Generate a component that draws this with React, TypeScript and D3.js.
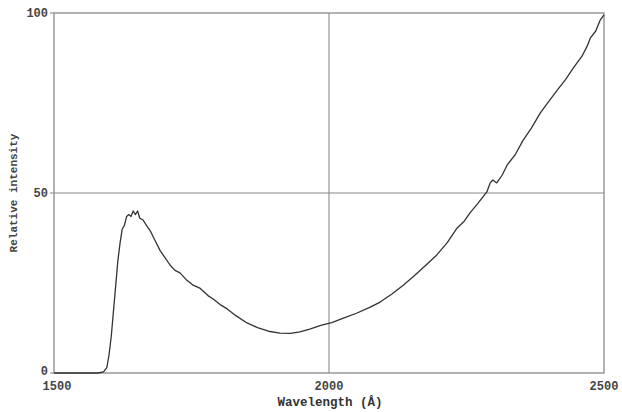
import React from "react";
import * as d3 from "d3";

const wavelengths = [
  1500, 1550, 1580, 1590, 1596, 1600, 1604, 1608, 1612, 1616, 1620, 1624, 1628, 1632, 1636, 1640,
  1644, 1648, 1652, 1656, 1662, 1668, 1675, 1683, 1693, 1702, 1711, 1720, 1729, 1740, 1752, 1765,
  1780, 1790, 1802, 1815, 1830, 1851, 1870, 1890, 1911, 1930, 1947, 1965, 1985, 2005, 2025, 2050,
  2075, 2093, 2115, 2135, 2155, 2175, 2196, 2215, 2233, 2245, 2256, 2270, 2287, 2293, 2298, 2305,
  2315, 2324, 2338, 2353, 2368, 2384, 2400, 2415, 2430, 2444, 2460, 2470, 2475, 2485, 2493, 2500
];
const intensity = [
  0, 0, 0, 0.3, 1.5, 5, 10, 17, 24, 31, 36, 40, 41, 43.5, 44, 43.5,
  45, 44, 45, 43, 42.5, 41, 39.5, 37, 34, 32, 30, 28.5, 27.8, 26, 24.5, 23.6,
  21.5, 20.5, 19, 17.8, 16, 13.9, 12.6, 11.6, 11.1, 11.0, 11.4, 12.2, 13.2, 14.0, 15.2, 16.6,
  18.3, 19.7, 22, 24.4, 27, 29.8, 32.8, 36.2, 40.3, 42, 44.4, 47, 50.3, 52.8, 53.6, 52.8,
  55, 57.8, 60.5, 64.7, 68, 72.2, 75.5, 78.6, 81.5, 84.7, 88, 91, 93, 95, 98, 99.5
];
const xTicks = [1500, 2000, 2500];
const yTicks = [0, 50, 100];

const W = 622, H = 412;
const left = 54, right = 604, top = 13, bottom = 373;

export default function App() {
  const x = d3.scaleLinear().domain([1500, 2500]).range([left, right]);
  const y = d3.scaleLinear().domain([0, 100]).range([bottom, top]);
  const pts: [number, number][] = wavelengths.map((w, i) => [w, intensity[i]]);
  const line = d3.line<[number, number]>().x(d => x(d[0])).y(d => y(d[1]));
  const font = "'Liberation Mono', 'DejaVu Sans Mono', monospace";
  const axisColor = "#8a8a8a";
  return (
    <svg width={W} height={H} style={{ position: "absolute", left: 0, top: 0, background: "#fff" }}>
      <rect x={0} y={0} width={W} height={H} fill="#fff" />
      <rect x={left} y={top} width={right - left} height={bottom - top} fill="none" stroke={axisColor} strokeWidth={1.3} />
      <line x1={x(2000)} x2={x(2000)} y1={top} y2={bottom} stroke={axisColor} strokeWidth={1.1} />
      <line x1={left} x2={right} y1={y(50)} y2={y(50)} stroke={axisColor} strokeWidth={1.1} />
      {yTicks.map(t => (
        <g key={"y" + t}>
          <line x1={left - 4} x2={left} y1={y(t)} y2={y(t)} stroke={axisColor} strokeWidth={1.1} />
          <text x={left - 6} y={t === 0 ? y(t) - 2 : y(t)} dy="0.35em" textAnchor="end" fontFamily={font} fontWeight="bold" fontSize={12} fill="#444">{t}</text>
        </g>
      ))}
      {xTicks.map(t => (
        <text key={"x" + t} x={x(t) + (t === 1500 ? 3 : 0)} y={bottom + 17} textAnchor="middle" fontFamily={font} fontWeight="bold" fontSize={12} fill="#444">{t}</text>
      ))}
      <text x={(left + right) / 2 + 1} y={406} textAnchor="middle" fontFamily={font} fontWeight="bold" fontSize={12.5} fill="#333">Wavelength (Å)</text>
      <text transform={`translate(17,${(top + bottom) / 2}) rotate(-90)`} textAnchor="middle" fontFamily={font} fontWeight="bold" fontSize={11} fill="#444">Relative intensity</text>
      <path d={line(pts) || ""} fill="none" stroke="#333" strokeWidth={1.3} strokeLinejoin="round" />
    </svg>
  );
}
